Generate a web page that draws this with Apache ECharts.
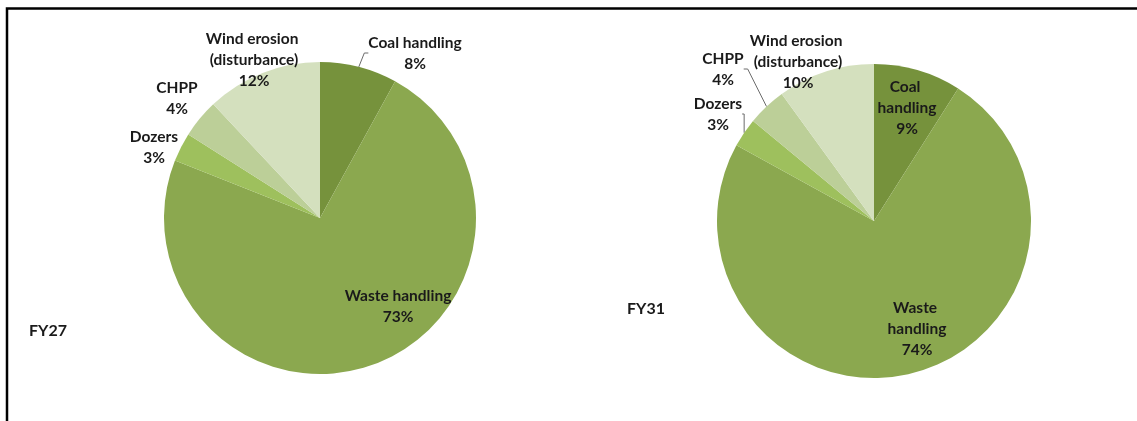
<!DOCTYPE html>
<html>
<head>
<meta charset="utf-8">
<script src="https://cdn.jsdelivr.net/npm/echarts@6/dist/echarts.min.js"></script>
<style>
  html, body { margin: 0; padding: 0; background: #ffffff; }
  #chart { width: 1137px; height: 421px; }
</style>
</head>
<body>
<div id="chart"></div>
<script>
// Emission sources, clockwise from 12 o'clock
const categories = ['Coal handling', 'Waste handling', 'Dozers', 'CHPP', 'Wind erosion (disturbance)'];
const fy27Values = [8, 73, 3, 4, 12];
const fy31Values = [9, 74, 3, 4, 10];
const periodLabels = ['FY27', 'FY31'];

// Olive monochrome shades, one per source
const sliceColors = ['#76923c', '#8ba84f', '#9ec05d', '#bccf98', '#d4e0be'];

const FONT = 'Lato, "Liberation Sans", sans-serif';

// Label anchor points (pixel centres of each text block) and wrap widths per pie
const pieLayouts = [
  {
    center: [320, 218], radius: 156,
    labelPos: [[415, 53], [398, 306], [154, 147], [177, 98], [254, 60]],
    wrap: [null, null, null, null, 110],
    line: [true, false, false, false, false]
  },
  {
    center: [874, 221], radius: 157,
    labelPos: [[907, 108], [917, 329], [718, 114], [723, 69], [798, 62]],
    wrap: [70, 70, null, null, 110],
    line: [false, false, true, true, false]
  }
];

function buildSeries(values, layout) {
  return {
    type: 'pie',
    center: layout.center,
    radius: layout.radius,
    startAngle: 90,
    clockwise: true,
    silent: true,
    animation: false,
    avoidLabelOverlap: false,
    itemStyle: { borderWidth: 0 },
    label: {
      show: true,
      position: 'outside',
      fontFamily: FONT,
      fontWeight: 'bold',
      fontSize: 15.5,
      lineHeight: 21,
      color: '#1a1a1a',
      align: 'center',
      overflow: 'break',
      formatter: p => p.name + '\n' + p.value + '%'
    },
    labelLine: { show: false, length: 4, length2: 4, lineStyle: { color: '#6b6b6b', width: 1 } },
    labelLayout: params => {
      const pos = layout.labelPos[params.dataIndex];
      return { x: pos[0], y: pos[1], align: 'center', verticalAlign: 'middle' };
    },
    data: categories.map((name, i) => {
      const lbl = layout.wrap[i] ? { width: layout.wrap[i] } : {};
      return {
        name: name,
        value: values[i],
        itemStyle: { color: sliceColors[i] },
        label: lbl,
        labelLine: { show: layout.line[i] }
      };
    })
  };
}

const chart = echarts.init(document.getElementById('chart'), null, { renderer: 'canvas' });
chart.setOption({
  backgroundColor: '#ffffff',
  animation: false,
  graphic: [
    {
      type: 'polyline',
      silent: true,
      shape: { points: [[7, 430], [7, 8.5], [1140, 8.5]] },
      style: { stroke: '#000000', lineWidth: 2.5, fill: null }
    },
    {
      type: 'text', left: 29, top: 323, silent: true,
      style: { text: periodLabels[0], font: 'bold 16px ' + FONT, fill: '#1a1a1a' }
    },
    {
      type: 'text', left: 627, top: 301, silent: true,
      style: { text: periodLabels[1], font: 'bold 16px ' + FONT, fill: '#1a1a1a' }
    }
  ],
  series: [
    buildSeries(fy27Values, pieLayouts[0]),
    buildSeries(fy31Values, pieLayouts[1])
  ]
});
</script>
</body>
</html>
